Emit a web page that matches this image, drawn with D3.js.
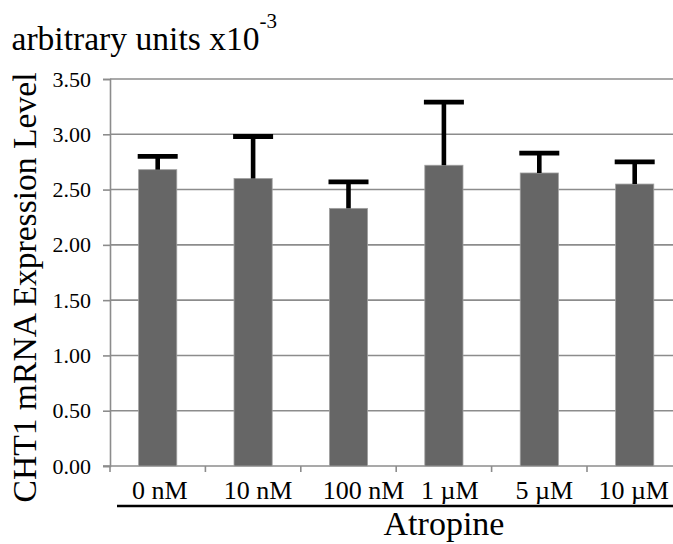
<!DOCTYPE html>
<html>
<head>
<meta charset="utf-8">
<script src="https://cdn.jsdelivr.net/npm/d3@7"></script>
<style>
  body { margin: 0; background: #fff; }
</style>
</head>
<body>
<div id="chart"></div>
<script>
// data
const doses = ["0 nM", "10 nM", "100 nM", "1 \u00b5M", "5 \u00b5M", "10 \u00b5M"]
const means = [2.68, 2.60, 2.33, 2.72, 2.65, 2.55]
const errors = [0.12, 0.38, 0.24, 0.57, 0.18, 0.20]
const yTicks = [0, 0.5, 1, 1.5, 2, 2.5, 3, 3.5]

const width = 673
const height = 544
const serif = "'Liberation Serif', 'Times New Roman', serif"
// labels were typed by hand under the axis, so they sit a bit off-centre
const labelNudge = [2, 5, 15, 6, 5, -1]

const svg = d3.select("#chart")
    .append("svg")
    .attr("width", width)
    .attr("height", height)
    .style("display", "block")

const x = d3.scaleBand()
    .domain(doses)
    .range([110, 682.4])
    .padding(0)

const y = d3.scaleLinear()
    .domain([0, 3.5])
    .range([466, 79])

const barW = x.bandwidth() * 0.4

// gridlines
svg.append("g")
    .selectAll("line")
    .data(yTicks.filter(d => d > 0))
    .join("line")
    .attr("x1", 110)
    .attr("x2", width)
    .attr("y1", d => y(d))
    .attr("y2", d => y(d))
    .attr("stroke", "#8c8c8c")
    .attr("stroke-width", 1.6)

// y axis
const yAxis = svg.append("g")
    .attr("transform", "translate(110,0)")
    .call(d3.axisLeft(y).tickValues(yTicks).tickFormat(d3.format(".2f")).tickSize(7).tickPadding(12))
yAxis.attr("font-family", serif).attr("font-size", 22)
yAxis.select(".domain").attr("stroke", "#8c8c8c").attr("stroke-width", 1.6)
yAxis.selectAll(".tick line").attr("stroke", "#8c8c8c").attr("stroke-width", 1.6)
yAxis.selectAll(".tick text").attr("fill", "#000")

// x axis line and category ticks
svg.append("line")
    .attr("x1", 103)
    .attr("x2", width)
    .attr("y1", y(0))
    .attr("y2", y(0))
    .attr("stroke", "#8c8c8c")
    .attr("stroke-width", 1.6)

svg.append("g")
    .selectAll("line")
    .data(doses)
    .join("line")
    .attr("x1", d => x(d))
    .attr("x2", d => x(d))
    .attr("y1", y(0))
    .attr("y2", y(0) + 6)
    .attr("stroke", "#8c8c8c")
    .attr("stroke-width", 1.6)

// bars
svg.append("g")
    .selectAll("rect")
    .data(doses)
    .join("rect")
    .attr("x", d => x(d) + (x.bandwidth() - barW) / 2)
    .attr("y", (d, i) => y(means[i]))
    .attr("width", barW)
    .attr("height", (d, i) => y(0) - y(means[i]))
    .attr("fill", "#666666")
    .attr("stroke", "#a0a0a0")
    .attr("stroke-width", 0.8)

// error bars (upper only)
const err = svg.append("g")
doses.forEach((d, i) => {
  const cx = x(d) + x.bandwidth() / 2
  err.append("line")
      .attr("x1", cx).attr("x2", cx)
      .attr("y1", y(means[i]))
      .attr("y2", y(means[i] + errors[i]))
      .attr("stroke", "#000")
      .attr("stroke-width", 4.6)
  err.append("line")
      .attr("x1", cx - 20).attr("x2", cx + 20)
      .attr("y1", y(means[i] + errors[i]))
      .attr("y2", y(means[i] + errors[i]))
      .attr("stroke", "#000")
      .attr("stroke-width", 4.8)
})

// category labels
svg.append("g")
    .selectAll("text")
    .data(doses)
    .join("text")
    .attr("x", (d, i) => x(d) + x.bandwidth() / 2 + labelNudge[i])
    .attr("y", 499)
    .attr("text-anchor", "middle")
    .attr("font-family", serif)
    .attr("font-size", 26)
    .text(d => d)

// underline + group name
svg.append("line")
    .attr("x1", 117)
    .attr("x2", width)
    .attr("y1", 506)
    .attr("y2", 506)
    .attr("stroke", "#000")
    .attr("stroke-width", 2.6)

svg.append("text")
    .attr("x", 444)
    .attr("y", 534.5)
    .attr("text-anchor", "middle")
    .attr("font-family", serif)
    .attr("font-size", 34)
    .text("Atropine")

// y title
svg.append("text")
    .attr("transform", "translate(36,287.5) rotate(-90)")
    .attr("text-anchor", "middle")
    .attr("font-family", serif)
    .attr("font-size", 33.6)
    .text("CHT1 mRNA Expression Level")

// units note on top
const units = svg.append("text")
    .attr("x", 11.5)
    .attr("y", 50)
    .attr("font-family", serif)
    .attr("font-size", 33.6)
    .text("arbitrary units x10")
units.append("tspan")
    .attr("dy", -22)
    .attr("font-size", 21)
    .text("-3")
</script>
</body>
</html>
